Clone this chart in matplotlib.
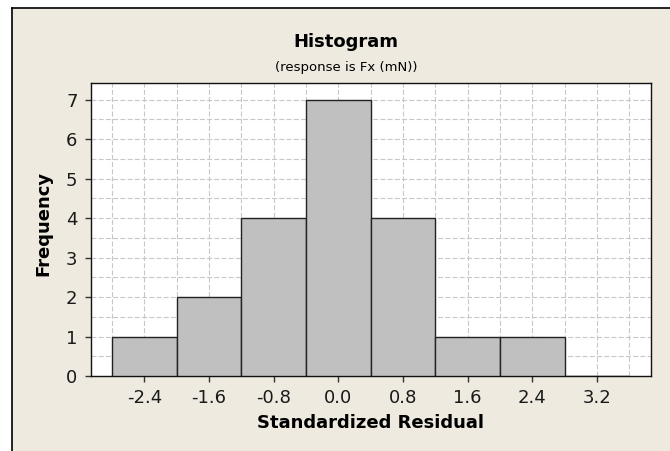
import matplotlib
matplotlib.use('Agg')
import matplotlib.pyplot as plt
from matplotlib.lines import Line2D
from matplotlib.patches import Rectangle
import numpy as np

# histogram bins (centre of each bin) and frequencies
bin_centers = [-2.4, -1.6, -0.8, 0.0, 0.8, 1.6, 2.4, 3.2]
frequency = [1, 2, 4, 7, 4, 1, 1, 0]
bin_width = 0.8
x_ticks = [-2.4, -1.6, -0.8, 0.0, 0.8, 1.6, 2.4, 3.2]
y_ticks = [0, 1, 2, 3, 4, 5, 6, 7]

plt.rcParams['font.family'] = ['DejaVu Sans']
W, H = 670, 451
fig = plt.figure(figsize=(W / 100, H / 100), dpi=100, facecolor='white')

# beige panel with black frame on left/top
fx, fy = 11.7 / W, 1 - 7.7 / H
fig.add_artist(Rectangle((fx, 0), 1 - fx, fy, transform=fig.transFigure,
                         facecolor='#EEEAE0', edgecolor='none', zorder=-10))
fig.add_artist(Line2D([fx, fx], [0, fy], transform=fig.transFigure, color='black', lw=1.2))
fig.add_artist(Line2D([fx, 1], [fy, fy], transform=fig.transFigure, color='black', lw=1.2))

ax = fig.add_axes([90.7 / W, 1 - 376 / H, 560 / W, 293.3 / H])
ax.set_facecolor('white')

ax.bar(bin_centers, frequency, width=bin_width, color='#C0C0C0',
       edgecolor='#222222', linewidth=1.0, zorder=3)

ax.set_xlim(-3.063, 3.864)
ax.set_ylim(0, 7.43)
ax.set_xticks(x_ticks)
ax.set_xticklabels([f'{v:.1f}' for v in x_ticks])
ax.set_yticks(y_ticks)
edges = np.array(bin_centers) - bin_width / 2
ax.set_xticks(list(edges) + [bin_centers[-1] + bin_width / 2], minor=True)
ax.set_yticks(np.arange(0.5, 7.5, 1.0), minor=True)

ax.grid(True, which='both', color='#C8C8C8', linestyle=(0, (4.5, 2)), linewidth=0.8, zorder=0)
ax.tick_params(axis='both', which='major', length=4, width=1, pad=5.5,
               labelsize=13, labelcolor='#1a1a1a', color='#333333')
ax.tick_params(axis='both', which='minor', length=0)

for s in ax.spines.values():
    s.set_color('#111111')
    s.set_linewidth(1.0)

ax.set_xlabel('Standardized Residual', fontsize=13, fontweight='bold', va='center')
ax.xaxis.set_label_coords(0.5, -0.159)
ax.set_ylabel('Frequency', fontsize=13, fontweight='bold', va='center')
ax.yaxis.set_label_coords(-0.0852, 0.52)

fig.text(346 / W, 1 - 46.7 / H, 'Histogram', ha='center', va='baseline',
         fontsize=13, fontweight='bold')
fig.text(346 / W, 1 - 70.7 / H, '(response is Fx (mN))', ha='center', va='baseline',
         fontsize=9.5)

fig.savefig('out.png', dpi=100, facecolor=fig.get_facecolor())
